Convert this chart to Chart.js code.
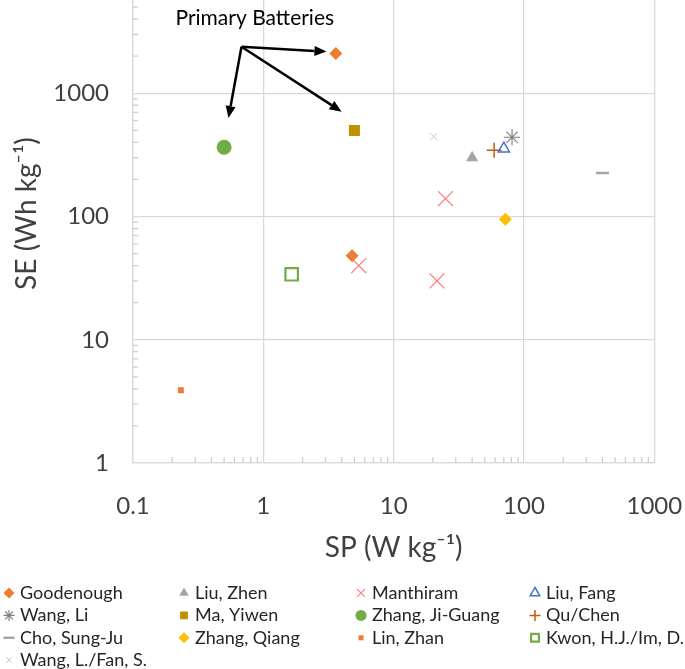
<!DOCTYPE html>
<html>
<head>
<meta charset="utf-8">
<script src="https://cdn.jsdelivr.net/npm/chart.js@4/dist/chart.umd.min.js"></script>
<style>
  body { margin: 0; background: #fff; }
  canvas { display: block; }
</style>
</head>
<body>
<canvas id="chart" width="685" height="669"></canvas>
<script>
// series values, SP (W/kg) and SE (Wh/kg)
var spGoodenough = [3.6, 4.8],        seGoodenough = [2100, 48];
var spLiuZhen = [40],                 seLiuZhen = [300];
var spManthiram = [5.4, 21.5, 25],    seManthiram = [40, 30, 140];
var spLiuFang = [70],                 seLiuFang = [355];
var spWangLi = [81],                  seWangLi = [440];
var spMaYiwen = [5.0],                seMaYiwen = [500];
var spZhangJG = [0.5],                seZhangJG = [365];
var spQuChen = [59],                  seQuChen = [345];
var spChoSJ = [400],                  seChoSJ = [226];
var spZhangQiang = [72],              seZhangQiang = [95];
var spLinZhan = [0.233],              seLinZhan = [3.9];
var spKwon = [1.65],                  seKwon = [34];
var spWangFan = [20.3],               seWangFan = [445];

// annotation, in data units
var noteText = 'Primary Batteries';
var notePos = [0.86, 4100];
var arrowFrom = [0.68, 2390];
var arrowTo = [[3.05, 2180], [3.99, 710], [0.54, 630]];

var FONT = 'Lato, "Open Sans", sans-serif';
var TEXT = '#404040';
var GRID = '#d9d9d9';

function pts(xs, ys) {
  return xs.map(function(x, i) { return { x: x, y: ys[i] }; });
}

// style: [pointStyle, radius, fill, stroke, borderWidth]
function series(label, xs, ys, st) {
  return {
    label: label,
    data: pts(xs, ys),
    pointStyle: st[0],
    pointRadius: st[1],
    pointHoverRadius: st[1],
    backgroundColor: st[2],
    borderColor: st[3],
    pointBackgroundColor: st[2],
    pointBorderColor: st[3],
    pointHoverBackgroundColor: st[2],
    pointHoverBorderColor: st[3],
    pointBorderWidth: st[4] || 0
  };
}

var NONE = 'rgba(0,0,0,0)';
var datasets = [
  series('Goodenough', spGoodenough, seGoodenough, ['rectRot', 6.5, '#ED7D31', '#ED7D31']),
  series('Liu, Zhen', spLiuZhen, seLiuZhen, ['triangle', 7, '#A5A5A5', '#A5A5A5']),
  series('Manthiram', spManthiram, seManthiram, ['crossRot', 10.5, '#FF7C80', '#FF7C80', 1.2]),
  series('Liu, Fang', spLiuFang, seLiuFang, ['triangle', 6.5, NONE, '#4472C4', 1.5]),
  series('Wang, Li', spWangLi, seWangLi, ['star', 8, '#7F7F7F', '#7F7F7F', 1.1]),
  series('Ma, Yiwen', spMaYiwen, seMaYiwen, ['rect', 7.8, '#BF9000', '#BF9000']),
  series('Zhang, Ji-Guang', spZhangJG, seZhangJG, ['circle', 7.5, '#70AD47', '#70AD47']),
  series('Qu/Chen', spQuChen, seQuChen, ['cross', 7.5, '#C55A11', '#C55A11', 1.5]),
  series('Cho, Sung-Ju', spChoSJ, seChoSJ, ['line', 6.5, '#A5A5A5', '#A5A5A5', 2.5]),
  series('Zhang, Qiang', spZhangQiang, seZhangQiang, ['rectRot', 6.5, '#FFC000', '#FFC000']),
  series('Lin, Zhan', spLinZhan, seLinZhan, ['rect', 4.2, '#ED7D31', '#ED7D31']),
  series('Kwon, H.J./Im, D.', spKwon, seKwon, ['rect', 8.8, NONE, '#70AD47', 2.2]),
  series('Wang, L./Fan, S.', spWangFan, seWangFan, ['crossRot', 5, '#B4C7E7', '#B4C7E7', 1])
];

function isDecade(v) {
  var l = Math.log10(v);
  return Math.abs(l - Math.round(l)) < 1e-6;
}

function decadeLabel(v) {
  return isDecade(v) ? String(Number(v.toPrecision(1))) : null;
}

// short minor tick marks drawn inside the plot, like the original
var minorTicks = {
  id: 'minorTicks',
  beforeDatasetsDraw: function(chart) {
    var ctx = chart.ctx, area = chart.chartArea;
    var x = chart.scales.x, y = chart.scales.y;
    ctx.save();
    ctx.strokeStyle = '#cfcfcf';
    ctx.lineWidth = 1.3;
    ctx.beginPath();
    for (var k = -1; k < 4; k++) {
      for (var m = 2; m < 10; m++) {
        var v = m * Math.pow(10, k);
        if (v > x.min && v < x.max) {
          var px = x.getPixelForValue(v);
          ctx.moveTo(px, area.bottom);
          ctx.lineTo(px, area.bottom - 6);
        }
        if (v > y.min && v < y.max) {
          var py = y.getPixelForValue(v);
          ctx.moveTo(area.left, py);
          ctx.lineTo(area.left + 5, py);
        }
      }
    }
    ctx.stroke();
    ctx.restore();
  }
};

function arrow(ctx, x0, y0, x1, y1) {
  var a = Math.atan2(y1 - y0, x1 - x0), len = 12, half = 5;
  var bx = x1 - Math.cos(a) * len, by = y1 - Math.sin(a) * len;
  ctx.beginPath();
  ctx.moveTo(x0, y0);
  ctx.lineTo(bx, by);
  ctx.stroke();
  ctx.beginPath();
  ctx.moveTo(x1, y1);
  ctx.lineTo(bx - Math.sin(a) * half, by + Math.cos(a) * half);
  ctx.lineTo(bx + Math.sin(a) * half, by - Math.cos(a) * half);
  ctx.closePath();
  ctx.fill();
}

var annotation = {
  id: 'annotation',
  afterDatasetsDraw: function(chart) {
    var ctx = chart.ctx, x = chart.scales.x, y = chart.scales.y;
    ctx.save();
    ctx.fillStyle = '#000';
    ctx.strokeStyle = '#000';
    ctx.lineWidth = 2.5;
    ctx.font = '21px ' + FONT;
    ctx.textAlign = 'center';
    ctx.textBaseline = 'middle';
    ctx.fillText(noteText, x.getPixelForValue(notePos[0]), y.getPixelForValue(notePos[1]));
    var fx = x.getPixelForValue(arrowFrom[0]), fy = y.getPixelForValue(arrowFrom[1]);
    arrowTo.forEach(function(p) {
      arrow(ctx, fx, fy, x.getPixelForValue(p[0]), y.getPixelForValue(p[1]));
    });
    ctx.restore();
  }
};

// four column legend under the plot
var legendCols = [9, 184, 361, 535];
var gridLegend = {
  id: 'gridLegend',
  afterDraw: function(chart) {
    var ctx = chart.ctx;
    ctx.save();
    ctx.font = '18px ' + FONT;
    ctx.textBaseline = 'middle';
    ctx.textAlign = 'left';
    chart.data.datasets.forEach(function(ds, i) {
      var cx = legendCols[i % 4], cy = 593 + Math.floor(i / 4) * 22.4;
      ctx.fillStyle = ds.pointBackgroundColor;
      ctx.strokeStyle = ds.pointBorderColor;
      ctx.lineWidth = ds.pointBorderWidth || 1;
      if (Chart.helpers && Chart.helpers.drawPoint) {
        Chart.helpers.drawPoint(ctx, {
          pointStyle: ds.pointStyle,
          radius: Math.min(ds.pointRadius, 6.5) * 0.85,
          borderWidth: ds.pointBorderWidth,
          rotation: 0
        }, cx, cy);
      }
      ctx.fillStyle = '#262626';
      ctx.fillText(ds.label, cx + 11, cy);
    });
    ctx.restore();
  }
};

new Chart(document.getElementById('chart'), {
  type: 'scatter',
  data: { datasets: datasets },
  plugins: [minorTicks, annotation, gridLegend],
  options: {
    responsive: false,
    animation: false,
    events: [],
    devicePixelRatio: 1,
    layout: { autoPadding: false, padding: { top: 0, right: 30.7, bottom: 96, left: 0 } },
    plugins: {
      legend: { display: false },
      tooltip: { enabled: false }
    },
    scales: {
      x: {
        type: 'logarithmic',
        position: 'bottom',
        min: 0.1,
        max: 1000,
        border: { color: GRID, width: 1.3 },
        grid: { color: GRID, lineWidth: 1.3, drawTicks: false },
        ticks: { autoSkip: false, maxRotation: 0, padding: 29, color: TEXT, font: { family: FONT, size: 24 }, callback: decadeLabel },
        title: { display: true, text: 'SP (W kg⁻¹)', color: TEXT, font: { family: FONT, size: 28 }, padding: { top: 0, bottom: 8 } },
        afterFit: function(s) { s.height = 110; s.paddingLeft = 0; s.paddingRight = 0; }
      },
      y: {
        type: 'logarithmic',
        min: 1,
        max: 5717,
        border: { color: GRID, width: 1.3 },
        grid: { color: GRID, lineWidth: 1.3, drawTicks: false },
        ticks: { autoSkip: false, padding: 24, color: TEXT, font: { family: FONT, size: 24 }, callback: decadeLabel },
        title: { display: true, text: '     SE (Wh kg⁻¹)', color: TEXT, font: { family: FONT, size: 28 }, padding: { top: 10, bottom: 0 } },
        afterFit: function(s) { s.width = 133; s.paddingTop = 0; s.paddingBottom = 0; }
      }
    }
  }
});
</script>
</body>
</html>
